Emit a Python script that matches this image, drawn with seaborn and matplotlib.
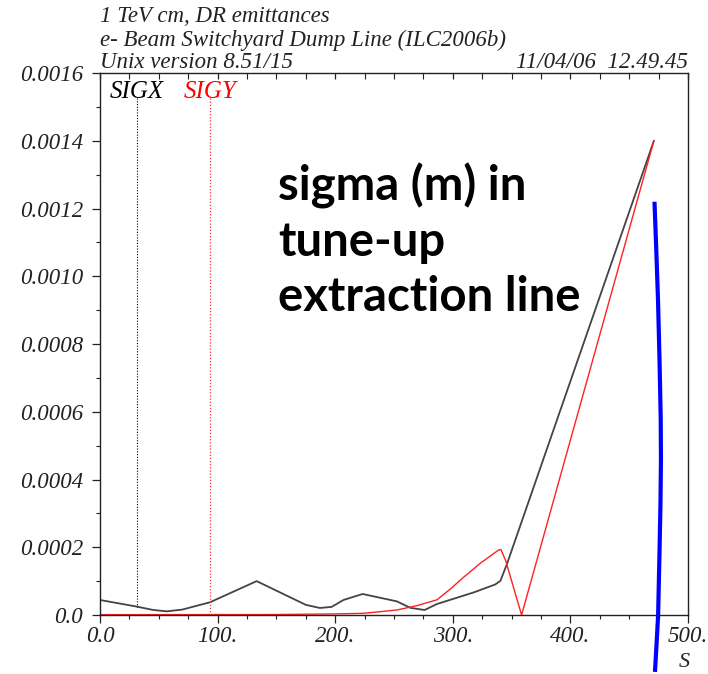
import matplotlib
matplotlib.use("Agg")
import matplotlib.pyplot as plt
import seaborn as sns
import pandas as pd
import numpy as np
from matplotlib.ticker import MultipleLocator, FixedLocator

# ---- data ----
s_sigx = [0, 31.6, 45, 56.7, 70, 93.5, 133.2, 175, 187, 197, 207, 223.3, 252.5, 264, 276, 286.6,
          317.8, 336, 340.5, 346, 471]
sigx = [4.43e-5, 2.46e-5, 1.5e-5, 1.08e-5, 1.6e-5, 3.75e-5, 1.0e-4, 3.0e-5, 2.07e-5, 2.4e-5, 4.43e-5,
        6.2e-5, 4.02e-5, 2.1e-5, 1.48e-5, 3.25e-5, 6.67e-5, 9.0e-5, 1.01e-4, 1.5e-4, 1.4e-3]

s_sigy = [0, 150, 195.6, 224, 252.5, 270, 286.6, 298, 309, 323.5, 339, 341, 345, 358.5, 471]
sigy = [1e-6, 1.5e-6, 3e-6, 4.9e-6, 1.48e-5, 2.8e-5, 4.5e-5, 7.7e-5, 1.11e-4, 1.53e-4, 1.92e-4,
        1.93e-4, 1.6e-4, 0.0, 1.4e-3]

blue_s = [471.5, 473.0, 474.5, 475.8, 476.8, 477.0, 476.6, 475.8, 474.6, 473.2, 471.9]
blue_v = [1.22e-3, 1.08e-3, 9.3e-4, 7.5e-4, 5.8e-4, 4.6e-4, 3.3e-4, 1.9e-4, 0.0, -9e-5, -1.68e-4]

marker_s = {"SIGX": 31.6, "SIGY": 93.5}

y_ticks = [0, 0.0002, 0.0004, 0.0006, 0.0008, 0.0010, 0.0012, 0.0014, 0.0016]
y_labels = ["0.0", "0.0002", "0.0004", "0.0006", "0.0008", "0.0010", "0.0012", "0.0014", "0.0016"]
x_ticks = [0, 100, 200, 300, 400, 500]
x_labels = ["0.0", "100.", "200.", "300.", "400.", "500."]

header = ["1 TeV cm, DR emittances", "e- Beam Switchyard Dump Line (ILC2006b)", "Unix version 8.51/15"]
stamp = "11/04/06  12.49.45"
note = "sigma (m) in\ntune-up\nextraction line"

# ---- figure ----
sns.set_theme(style="ticks")
plt.rcParams["font.family"] = ["Liberation Serif", "DejaVu Serif"]

W, H = 708, 674
fig = plt.figure(figsize=(W / 100, H / 100), dpi=100)
ax = fig.add_axes([100 / W, 1 - 615 / H, 588 / W, (615 - 73) / H])

df_x = pd.DataFrame({"s": s_sigx, "v": sigx})
df_y = pd.DataFrame({"s": s_sigy, "v": sigy})
sns.lineplot(data=df_x, x="s", y="v", ax=ax, color="#444444", lw=1.3, sort=False, estimator=None)
sns.lineplot(data=df_y, x="s", y="v", ax=ax, color="#ff2020", lw=1.0, sort=False, estimator=None)

# label marker lines
ax.plot([marker_s["SIGX"]] * 2, [1.526e-3, 2.5e-5], color="black", ls=(0, (1, 1.5)), lw=0.8)
ax.plot([marker_s["SIGY"]] * 2, [1.526e-3, 0.0], color="#ff3030", ls=(0, (1, 1.5)), lw=0.9)

ax.set_xlim(0, 500)
ax.set_ylim(0, 0.0016)
ax.set_xlabel("")
ax.set_ylabel("")

ax.xaxis.set_major_locator(FixedLocator(x_ticks))
ax.set_xticklabels(x_labels)
ax.xaxis.set_minor_locator(MultipleLocator(25))
ax.yaxis.set_major_locator(FixedLocator(y_ticks))
ax.set_yticklabels(y_labels)
ax.yaxis.set_minor_locator(MultipleLocator(0.0001))

for sp in ax.spines.values():
    sp.set_visible(True)
    sp.set_color("#222222")
    sp.set_linewidth(1.0)

ax.tick_params(axis="both", which="major", direction="out", length=6, width=0.9,
               color="#222222", labelsize=16.5, pad=6)
ax.tick_params(axis="x", which="major", pad=2)
ax.tick_params(axis="both", which="minor", direction="out", length=3, width=0.8, color="#222222")
ax.tick_params(axis="x", which="both", top=True)
ax.tick_params(axis="y", which="both", right=False)
for lab in ax.get_xticklabels() + ax.get_yticklabels():
    lab.set_fontstyle("italic")
    lab.set_color("#222222")
# top ticks inward
for t in ax.xaxis.get_major_ticks() + ax.xaxis.get_minor_ticks():
    t.tick2line.set_marker(3)  # TICKDOWN
    t.tick2line.set_markersize(4)

# blue hand-drawn curve (extends below axis)
ax.plot(blue_s, blue_v, color="#0000ff", lw=3.0, clip_on=False, solid_capstyle="butt")

# legend labels
fig.text(110 / W, 1 - 92 / H, "SIGX", color="black", fontsize=18, style="italic", va="center")
fig.text(184 / W, 1 - 92 / H, "SIGY", color="red", fontsize=18, style="italic", va="center")

# header
for i, line in enumerate(header):
    fig.text(100 / W, 1 - (17 + 23 * i) / H, line, fontsize=16.5, style="italic",
             color="#222222", va="center")
fig.text(688 / W, 1 - 63 / H, stamp, fontsize=16.5, style="italic", color="#222222",
         va="center", ha="right")

# axis name
fig.text(684 / W, 1 - 672 / H, "S", fontsize=16, style="italic", color="#222222",
         ha="center", va="bottom")

# annotation
fig.text(278 / W, 1 - 163 / H, note, fontsize=34, fontweight="bold", family="Lato",
         color="black", va="top", ha="left", linespacing=1.3)

fig.savefig("out.png", dpi=100)
